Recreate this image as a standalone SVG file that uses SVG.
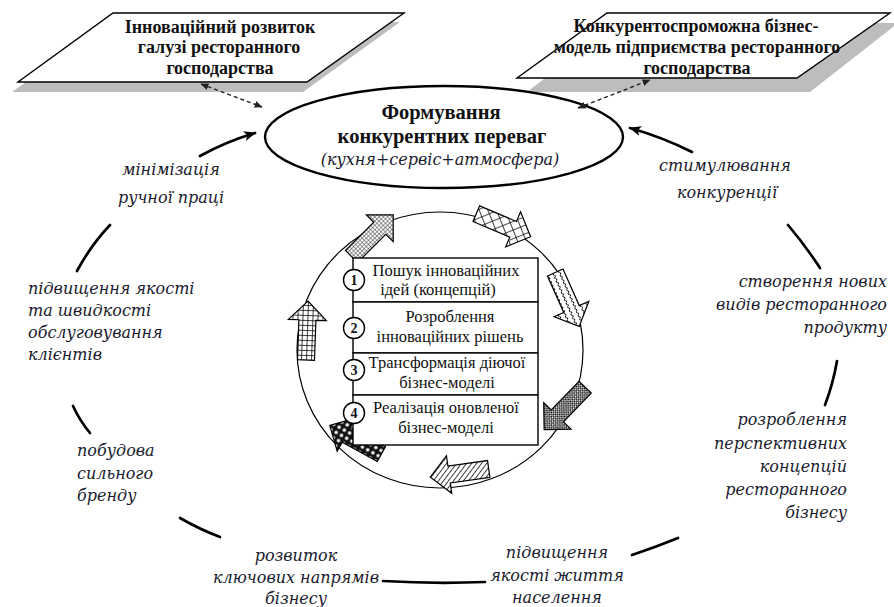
<svg xmlns="http://www.w3.org/2000/svg" width="894" height="607" viewBox="0 0 894 607">
<style>
.box{fill:#fff;stroke:#000;stroke-width:1.4}
.shadow{fill:#bdbdbd}
.bt{font-family:"Liberation Serif",serif;font-weight:bold;font-size:18px;fill:#111;text-anchor:middle}
.et{font-family:"Liberation Serif",serif;font-weight:bold;font-size:20.5px;fill:#111;text-anchor:middle}
.it{font-family:"DejaVu Serif",serif;font-style:italic;font-size:16px;fill:#1a1a2e}
.mid{text-anchor:middle}
.end{text-anchor:end}
.seg{fill:none;stroke:#000;stroke-width:2.7;stroke-linecap:round}
.dash{fill:none;stroke:#222;stroke-width:1.4;stroke-dasharray:4 3}
.st{fill:#fff;stroke:#000;stroke-width:1.4}
.stt{font-family:"Liberation Serif",serif;font-size:16.5px;fill:#111;text-anchor:middle}
.num{font-family:"Liberation Serif",serif;font-weight:bold;font-size:14px;fill:#111;text-anchor:middle}
.arr{stroke:#000;stroke-width:1.2;stroke-linejoin:miter}
</style>
<defs>
<marker id="ah" viewBox="0 0 12 10" refX="11" refY="5" markerWidth="12" markerHeight="10" markerUnits="userSpaceOnUse" orient="auto">
<path d="M0,0 L12,5 L0,10 L3,5 Z" fill="#000"/>
</marker>
<marker id="dh" viewBox="0 0 8 7" refX="7.5" refY="3.5" markerWidth="8" markerHeight="7" markerUnits="userSpaceOnUse" orient="auto-start-reverse">
<path d="M0,0 L8,3.5 L0,7 Z" fill="#222"/>
</marker>
<path id="barr" d="M-29,-8.5 L11,-8.5 L11,-19 L30,0 L11,19 L11,8.5 L-29,8.5 Z"/>
<pattern id="p1" width="3" height="3" patternUnits="userSpaceOnUse">
<rect width="3" height="3" fill="#fff"/><path d="M0,0 H3 M0,0 V3" stroke="#222" stroke-width="0.9"/>
</pattern>
<pattern id="p2" width="8" height="8" patternUnits="userSpaceOnUse" patternTransform="rotate(45)">
<rect width="8" height="8" fill="#fff"/><path d="M0,0 H8 M0,0 V8" stroke="#000" stroke-width="1.4"/>
</pattern>
<pattern id="p3" width="8" height="6" patternUnits="userSpaceOnUse">
<rect width="8" height="6" fill="#fff"/><path d="M0,3 L2,1 L4,3 L6,1 L8,3" fill="none" stroke="#000" stroke-width="1"/>
</pattern>
<pattern id="p4" width="3" height="3" patternUnits="userSpaceOnUse">
<rect width="3" height="3" fill="#fff"/><rect width="1.6" height="1.6" fill="#000"/><rect x="1.5" y="1.5" width="1.5" height="1.5" fill="#000"/>
</pattern>
<pattern id="p5" width="4" height="4" patternUnits="userSpaceOnUse" patternTransform="rotate(45)">
<rect width="4" height="4" fill="#fff"/><path d="M0,0 V4" stroke="#000" stroke-width="1.5"/>
</pattern>
<pattern id="p6" width="6" height="6" patternUnits="userSpaceOnUse">
<rect width="6" height="6" fill="#111"/><circle cx="3" cy="3" r="1.8" fill="#fff"/>
</pattern>
<pattern id="p7" width="5" height="5" patternUnits="userSpaceOnUse">
<rect width="5" height="5" fill="#fff"/><path d="M0,0 H5 M0,0 V5" stroke="#000" stroke-width="1.5"/>
</pattern>
</defs>
<rect width="894" height="607" fill="#fff"/>

<g id="box-left">
<polygon class="shadow" points="110,22 400,22 303,92 12,92"/>
<polygon class="box" points="113,13 404,13 307,82 18,82"/>
<text class="bt" x="220" y="33">Інноваційний розвиток</text>
<text class="bt" x="219" y="53">галузі ресторанного</text>
<text class="bt" x="220" y="74">господарства</text>
</g>

<g id="box-right">
<polygon class="shadow" points="616,23 898,23 810,92 527,92"/>
<polygon class="box" points="607,13 890,13 797,78 517,78"/>
<text class="bt" x="696" y="32">Конкурентоспроможна бізнес-</text>
<text class="bt" x="697" y="53">модель підприємства ресторанного</text>
<text class="bt" x="697" y="74">господарства</text>
</g>

<g id="center-ellipse">
<ellipse cx="444" cy="137" rx="179" ry="51" fill="#fff" stroke="#000" stroke-width="2.4"/>
<text class="et" x="441" y="119">Формування</text>
<text class="et" x="442" y="143">конкурентних переваг</text>
<text class="it mid" x="440" y="165">(кухня+сервіс+атмосфера)</text>
</g>

<g id="connectors">
<path class="dash" d="M201,84 L262,107" marker-start="url(#dh)" marker-end="url(#dh)"/>
<path class="dash" d="M578,108 L650,80" marker-start="url(#dh)" marker-end="url(#dh)"/>
<path class="seg" d="M200,156 Q225,142 255,133" marker-end="url(#ah)"/>
<path class="seg" d="M692,152 Q662,137 630,128" marker-end="url(#ah)"/>
<path class="seg" d="M77,271 Q91,245 110,225"/>
<path class="seg" d="M73,406 Q80,421 90,433"/>
<path class="seg" d="M180,518 Q199,529 220,537"/>
<path class="seg" d="M383,581 Q434,584 485,582"/>
<path class="seg" d="M632,555 Q656,547 678,538"/>
<path class="seg" d="M837,361 Q833,384 825,405"/>
<path class="seg" d="M788,225 Q805,245 820,268"/>
</g>

<g id="labels">
<text class="it mid" x="171" y="175">мінімізація</text>
<text class="it mid" x="171" y="203">ручної праці</text>
<text class="it mid" x="725" y="171">стимулювання</text>
<text class="it mid" x="727" y="198">конкуренції</text>
<text class="it end" x="887" y="287">створення нових</text>
<text class="it end" x="887" y="310">видів ресторанного</text>
<text class="it end" x="887" y="333">продукту</text>
<text class="it" x="28" y="294">підвищення якості</text>
<text class="it" x="28" y="316">та швидкості</text>
<text class="it" x="28" y="338">обслуговування</text>
<text class="it" x="28" y="360">клієнтів</text>
<text class="it end" x="847" y="425">розроблення</text>
<text class="it end" x="847" y="449">перспективних</text>
<text class="it end" x="847" y="472">концепцій</text>
<text class="it end" x="847" y="495">ресторанного</text>
<text class="it end" x="847" y="518">бізнесу</text>
<text class="it" x="77" y="456">побудова</text>
<text class="it" x="77" y="479">сильного</text>
<text class="it" x="77" y="501">бренду</text>
<text class="it mid" x="296" y="561">розвиток</text>
<text class="it mid" x="296" y="583">ключових напрямів</text>
<text class="it mid" x="296" y="604">бізнесу</text>
<text class="it mid" x="557" y="558">підвищення</text>
<text class="it mid" x="557" y="581">якості життя</text>
<text class="it mid" x="557" y="603">населення</text>
</g>

<g id="cycle">
<ellipse cx="440" cy="350" rx="143" ry="138" fill="none" stroke="#000" stroke-width="1.2"/>
<use href="#barr" class="arr" fill="url(#p1)" transform="translate(372,236) rotate(-45)"/>
<use href="#barr" class="arr" fill="url(#p2)" transform="translate(503,225) rotate(23)"/>
<use href="#barr" class="arr" fill="url(#p3)" transform="translate(567,299) rotate(66)"/>
<use href="#barr" class="arr" fill="url(#p4)" transform="translate(565,408) rotate(134)"/>
<use href="#barr" class="arr" fill="url(#p5)" transform="translate(460,473) rotate(172)"/>
<use href="#barr" class="arr" fill="url(#p6)" transform="translate(356,440) rotate(-151)"/>
<use href="#barr" class="arr" fill="url(#p7)" transform="translate(307,331) rotate(-88)"/>
</g>

<g id="step-1">
<rect class="box" x="353" y="258" width="185" height="44"/>
<text class="stt" x="446" y="276">Пошук інноваційних</text>
<text class="stt" x="438" y="295">ідей (концепцій)</text>
<circle class="st" cx="354" cy="280" r="10.5"/>
<text class="num" x="354" y="285">1</text>
</g>
<g id="step-2">
<rect class="box" x="353" y="302" width="185" height="51"/>
<text class="stt" x="450" y="322">Розроблення</text>
<text class="stt" x="450" y="342">інноваційних рішень</text>
<circle class="st" cx="354" cy="328" r="10.5"/>
<text class="num" x="354" y="333">2</text>
</g>
<g id="step-3">
<rect class="box" x="353" y="353" width="185" height="42"/>
<text class="stt" x="447" y="368">Трансформація діючої</text>
<text class="stt" x="447" y="388">бізнес-моделі</text>
<circle class="st" cx="354" cy="370" r="10.5"/>
<text class="num" x="354" y="375">3</text>
</g>
<g id="step-4">
<rect class="box" x="353" y="395" width="185" height="50"/>
<text class="stt" x="446" y="413">Реалізація оновленої</text>
<text class="stt" x="446" y="433">бізнес-моделі</text>
<circle class="st" cx="354" cy="413" r="10.5"/>
<text class="num" x="354" y="418">4</text>
</g>
</svg>
